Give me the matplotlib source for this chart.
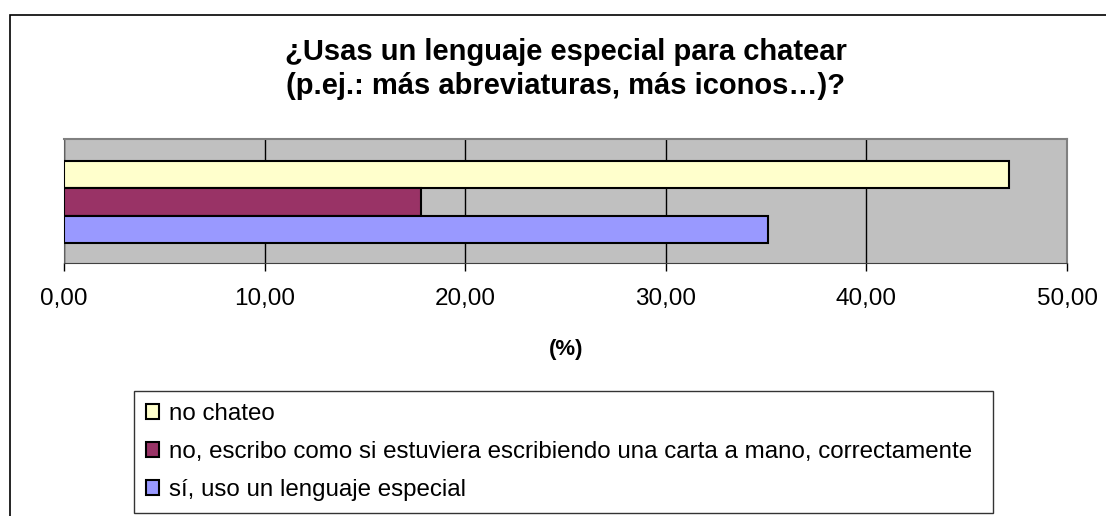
import matplotlib
matplotlib.use('Agg')
import matplotlib.pyplot as plt
import matplotlib.patches as patches

plt.rcParams['font.family'] = ['Liberation Sans', 'DejaVu Sans']

categories = [
    'no chateo',
    'no, escribo como si estuviera escribiendo una carta a mano, correctamente',
    'sí, uso un lenguaje especial',
]
values = [47.1, 17.8, 35.1]
colors = ['#FFFFCC', '#993366', '#9999FF']
xticks = [0, 10, 20, 30, 40, 50]
xtick_labels = ['0,00', '10,00', '20,00', '30,00', '40,00', '50,00']
title = '¿Usas un lenguaje especial para chatear\n(p.ej.: más abreviaturas, más iconos…)?'
xlabel = '(%)'

W, H = 1106, 516
fig = plt.figure(figsize=(W / 100, H / 100), dpi=100)

# outer chart border (right and bottom fall outside the picture)
fig.patches.append(patches.Rectangle((10 / W, -0.1), 1.2, 1 - 15 / H + 0.1,
                                     transform=fig.transFigure, fill=False,
                                     edgecolor='black', lw=1.2))

ax = fig.add_axes([64 / W, 1 - 263 / H, (1067 - 64) / W, (263 - 139) / H])
ax.set_facecolor('#C0C0C0')

ypos = list(range(len(categories)))[::-1]
for y, v, c, lab in zip(ypos, values, colors, categories):
    ax.barh(y, v, height=1.0, color=c, edgecolor='black', lw=1.5,
            label=lab, zorder=3)

ax.set_xlim(0, 50)
ax.set_ylim(-1.23, 3.30)
ax.set_xticks(xticks)
ax.set_xticklabels(xtick_labels, fontsize=17.5)
ax.set_yticks([])
ax.tick_params(axis='x', direction='out', length=6, width=1, pad=12, colors='black')
ax.xaxis.grid(True, color='black', lw=1, zorder=1)
ax.set_axisbelow(True)
for s in ['top', 'right']:
    ax.spines[s].set_color('#808080')
    ax.spines[s].set_linewidth(1.5)
ax.spines['left'].set_color('#606060')
ax.spines['bottom'].set_color('#404040')

fig.text(566 / W, 1 - 69 / H, title, ha='center', va='center', fontsize=21,
         fontweight='bold', linespacing=1.3)
fig.text(566 / W, 1 - 350 / H, xlabel, ha='center', va='center', fontsize=16,
         fontweight='bold')

leg = fig.legend(loc='upper left',
                 bbox_to_anchor=(134 / W, 1 - 513 / H, (993 - 134) / W, (513 - 391) / H),
                 mode='expand', fontsize=17.4, frameon=True, fancybox=False,
                 edgecolor='black', borderaxespad=0, handlelength=0.53,
                 handleheight=0.53, handletextpad=0.4, labelspacing=0.66,
                 borderpad=0.5)
leg.get_frame().set_linewidth(1.0)

fig.savefig('out.png', dpi=100)
